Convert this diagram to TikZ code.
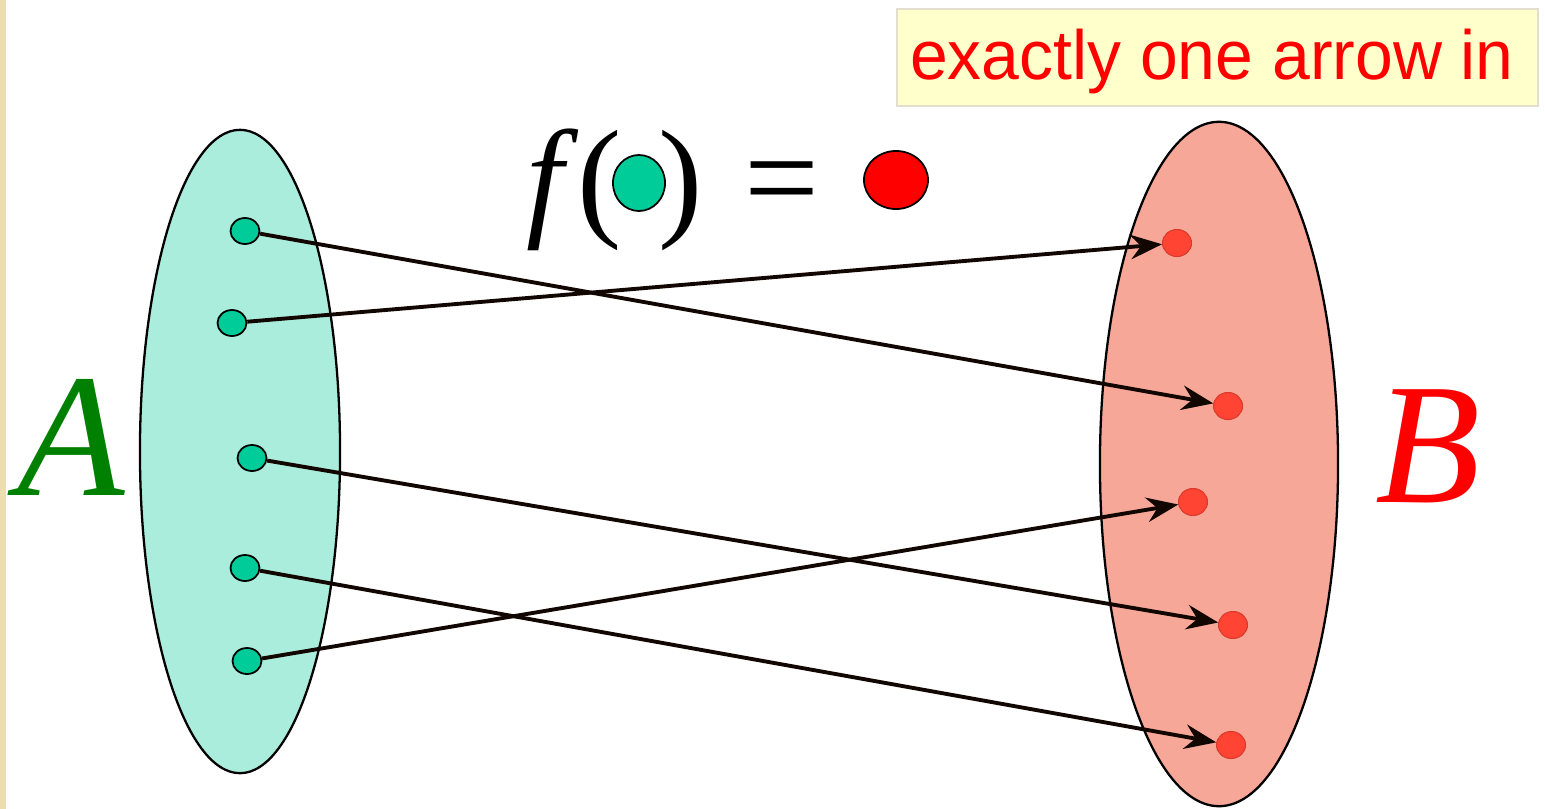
\documentclass[tikz,border=0pt]{standalone}
\usepackage{fontspec}
\setmainfont{Liberation Serif}
\newfontfamily\labelfont{Liberation Sans}
\newfontfamily\symfont{Liberation Serif}
\usetikzlibrary{arrows.meta,shapes.geometric}
\definecolor{aquafill}{HTML}{ABEDDC}
\definecolor{salmonfill}{HTML}{F7A797}
\definecolor{dotgreen}{HTML}{00CC99}
\definecolor{dotred}{HTML}{FF4433}
\definecolor{eqred}{HTML}{FF0000}
\definecolor{arrowdark}{HTML}{120600}
\definecolor{notefill}{HTML}{FFFFCC}
\definecolor{noteedge}{HTML}{E3DFCF}
\definecolor{strip}{HTML}{EEDDB2}
\definecolor{agreen}{HTML}{008000}
\begin{document}
\begin{tikzpicture}[x=0.01cm,y=-0.01cm,
  setA/.style={ellipse, draw=black, line width=0.65pt, fill=aquafill, inner sep=0pt,
    minimum width=2cm, minimum height=6.43cm},
  setB/.style={ellipse, draw=black, line width=0.65pt, fill=salmonfill, inner sep=0pt,
    minimum width=2.38cm, minimum height=6.84cm},
  dotA/.style={ellipse, draw=black, line width=0.5pt, fill=dotgreen, inner sep=0pt,
    minimum width=0.29cm, minimum height=0.26cm},
  dotB/.style={ellipse, draw=dotred!85!black, line width=0.3pt, fill=dotred, inner sep=0pt,
    minimum width=0.29cm, minimum height=0.27cm},
  maparrow/.style={line width=1.1pt, draw=arrowdark,
    -{Stealth[length=9pt,width=7pt,inset=3pt]}},
  bigsym/.style={inner sep=0pt, anchor=base, font=\symfont\fontsize{37.8pt}{40pt}\selectfont}
]
\useasboundingbox (0,0) rectangle (1545,809);
\fill[strip] (0,0) rectangle (6,809);

% note box
\node[draw=noteedge, line width=0.6pt, fill=notefill, minimum width=6.41cm,
  minimum height=0.97cm, inner sep=0pt] (note) at (1217.5,57.5) {};
\node[inner sep=0pt, anchor=base, text=eqred, xscale=0.975,
  font=\labelfont\fontsize{19.8pt}{21pt}\selectfont] (notetext) at (1212,80) {exactly one arrow in};

% sets
\node[setA] (setA) at (240,451.5) {};
\node[setB] (setB) at (1219,464) {};

% set labels
\node[inner sep=0pt, anchor=base, text=agreen,
  font=\symfont\itshape\fontsize{50pt}{54pt}\selectfont] (labA) at (71,495) {A};
\node[inner sep=0pt, anchor=base, text=eqred,
  font=\symfont\itshape\fontsize{49pt}{53pt}\selectfont] (labB) at (1428,502) {B};

% formula f(o) = o
\node[bigsym, font=\symfont\itshape\fontsize{37.8pt}{40pt}\selectfont] (fsym) at (545,222) {f};
\node[bigsym] (lpar) at (600,222) {(};
\node[ellipse, draw=black, line width=0.5pt, fill=dotgreen, inner sep=0pt,
  minimum width=0.52cm, minimum height=0.56cm] (fdot) at (639,183) {};
\node[bigsym] (rpar) at (681,222) {)};
\node[bigsym] (eqs) at (782,222) {=};
\node[ellipse, draw=black, line width=0.5pt, fill=eqred, inner sep=0pt,
  minimum width=0.64cm, minimum height=0.58cm] (rdot) at (896,180) {};

% dots of A
\node[dotA] (a1) at (245,231) {};
\node[dotA] (a2) at (232,323) {};
\node[dotA] (a3) at (252,458) {};
\node[dotA] (a4) at (245,568) {};
\node[dotA] (a5) at (247,661) {};

% dots of B
\node[dotB] (b1) at (1177,243) {};
\node[dotB] (b2) at (1228,406) {};
\node[dotB] (b3) at (1193,502) {};
\node[dotB] (b4) at (1233,625) {};
\node[dotB] (b5) at (1231,745) {};

% mapping arrows
\draw[maparrow] (a1) -- (b2);
\draw[maparrow] (a2) -- (b1);
\draw[maparrow] (a3) -- (b4);
\draw[maparrow] (a4) -- (b5);
\draw[maparrow] (a5) -- (b3);
\end{tikzpicture}
\end{document}
